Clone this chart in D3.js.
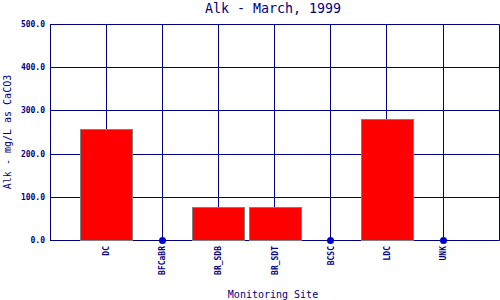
<!DOCTYPE html>
<html><head><meta charset="utf-8">
<script src="https://cdn.jsdelivr.net/npm/d3@7"></script>
<style>body{margin:0;background:#fff}svg{display:block}</style>
</head><body>
<script>
const sites = ["DC","BFCaBR","BR_SDB","BR_SDT","BCSC","LDC","UNK"];
const values = [258, 0, 76, 76, 0, 279, 0];
const yTicks = [0,100,200,300,400,500];
const title = "Alk - March, 1999";
const xTitle = "Monitoring Site";
const yTitle = "Alk - mg/L as CaCO3";

const W=500,H=300;
const navy="#000080";
const svg=d3.select("body").append("svg").attr("width",W).attr("height",H);
const x=d3.scaleLinear().domain([0,sites.length+1]).range([50,499.3]);
const y=d3.scaleLinear().domain([0,500]).range([240,24]);
const px=v=>Math.floor(v)+0.5;
const py=v=>Math.round(v)+0.5;

// horizontal grid
svg.append("g").selectAll("line").data(yTicks).join("line")
  .attr("x1",50).attr("x2",px(x(sites.length+1)))
  .attr("y1",d=>py(y(d))).attr("y2",d=>py(y(d)))
  .attr("stroke",navy).attr("stroke-width",1);
// vertical grid
svg.append("g").selectAll("line").data(d3.range(0,sites.length+2)).join("line")
  .attr("x1",d=>px(x(d))).attr("x2",d=>px(x(d)))
  .attr("y1",py(y(500))).attr("y2",py(y(0)))
  .attr("stroke",navy).attr("stroke-width",1);

const bw=52;
const data=sites.map((s,i)=>({s,v:values[i],i:i+1}));
svg.append("g").selectAll("rect").data(data.filter(d=>d.v>0)).join("rect")
  .attr("x",d=>Math.round(x(d.i)-bw/2)+0.5).attr("width",bw)
  .attr("y",d=>Math.round(y(d.v))+0.5).attr("height",d=>Math.round(y(0))-Math.round(y(d.v)))
  .attr("fill","#ff0000").attr("stroke","#808080").attr("stroke-width",1);
svg.append("g").selectAll("circle").data(data.filter(d=>d.v===0)).join("circle")
  .attr("cx",d=>px(x(d.i))).attr("cy",py(y(0))).attr("r",3.5)
  .attr("fill","#0000cc");

const mono="'DejaVu Sans Mono', monospace";
// y tick labels
svg.append("g").selectAll("text").data(yTicks).join("text")
  .attr("x",45).attr("y",d=>y(d)+3)
  .attr("text-anchor","end").attr("font-family",mono).attr("font-size",8).attr("font-weight","bold")
  .attr("fill",navy).text(d=>d.toFixed(1));
// x tick labels
svg.append("g").selectAll("text").data(data).join("text")
  .attr("transform",d=>`translate(${x(d.i)+3},246) rotate(-90)`)
  .attr("text-anchor","end").attr("font-family",mono).attr("font-size",8).attr("font-weight","bold")
  .attr("fill",navy).text(d=>d.s);

svg.append("text").attr("x",273).attr("y",13).attr("text-anchor","middle")
  .attr("font-family",mono).attr("font-size",13.3).attr("fill",navy).text(title);
svg.append("text").attr("x",273).attr("y",298).attr("text-anchor","middle")
  .attr("font-family",mono).attr("font-size",10).attr("fill",navy).text(xTitle);
svg.append("text").attr("transform","translate(11,132) rotate(-90)").attr("text-anchor","middle")
  .attr("font-family",mono).attr("font-size",10).attr("fill",navy).text(yTitle);
</script>
</body></html>
